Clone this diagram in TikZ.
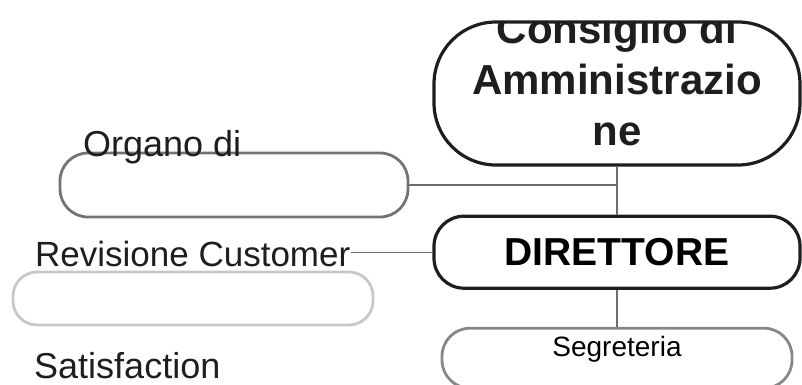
\documentclass[tikz,border=0pt]{standalone}
\usepackage{fontspec}
\setmainfont{Liberation Sans}
\usepackage{tikz}
\usetikzlibrary{positioning}
\definecolor{Cdark}{RGB}{30, 30, 30}
\definecolor{Cmid}{RGB}{115, 115, 115}
\definecolor{Cgrey}{RGB}{135, 135, 135}
\definecolor{Clight}{RGB}{200, 200, 200}
\definecolor{Cline}{RGB}{110, 110, 110}
\tikzset{
    cbox/.style={
        rectangle, inner sep=0pt, line width=2.8pt, fill=none
    },
    ctop/.style={
        cbox, draw=Cdark, line width=3.2pt, minimum width=366pt,
        rounded corners=62pt, minimum height=143pt
    },
    cboss/.style={
        cbox, draw=Cdark, line width=3.2pt, minimum width=366pt,
        rounded corners=30pt, minimum height=72pt,
        font=\fontsize{39}{44}\selectfont\bfseries
    },
    cstaff/.style={
        cbox, draw=Cgrey, minimum width=350pt, rounded corners=28pt,
        minimum height=60pt, text depth=24pt, font=\fontsize{28}{32}\selectfont
    },
    cside/.style={
        cbox, draw=Cmid, rounded corners=28pt
    },
    clbl/.style={
        inner sep=0pt, anchor=base west, text=Cdark,
        font=\fontsize{36}{40}\selectfont
    },
    clink/.style={line width=1.1pt, Cline},
}

\begin{document}
\begin{tikzpicture}[x=1pt, y=1pt]
    \useasboundingbox (0,0) rectangle (802,384);

    \node [ctop] (cda) at (617,290.5) {};
    \begin{scope}
        \clip (0,0) rectangle (802,362);
        \node [align=center, inner sep=0pt, text=Cdark,
            font=\fontsize{42}{51}\selectfont\bfseries]
            (cdatxt) at (617,305) {Consiglio di\\Amministrazio\\ne};
    \end{scope}
    \node [cboss, below=48pt of cda] (dir) {DIRETTORE};
    \node [cstaff, below=37pt of dir] (seg) {Segreteria};

    \node [cside, minimum width=348pt, minimum height=64pt] (org) at (234,199) {};
    \node [cside, draw=Clight, minimum width=360pt, minimum height=53pt,
        rounded corners=24pt] (csbox) at (193,85.5) {};

    \node [clbl] (orgtxt) at (83,228) {Organo di};
    \node [clbl, font=\fontsize{35}{40}\selectfont] (revtxt) at (35,118) {Revisione Customer};
    \node [clbl] (sattxt) at (34,6) {Satisfaction};

    \draw [clink] (cda.south) -- (dir.north);
    \draw [clink] (org.east) -- (org.east -| cda.south);
    \draw [clink] (revtxt.east |- dir.west) -- (dir.west);
    \draw [clink] (dir.south) -- (seg.north);

\end{tikzpicture}
\end{document}
